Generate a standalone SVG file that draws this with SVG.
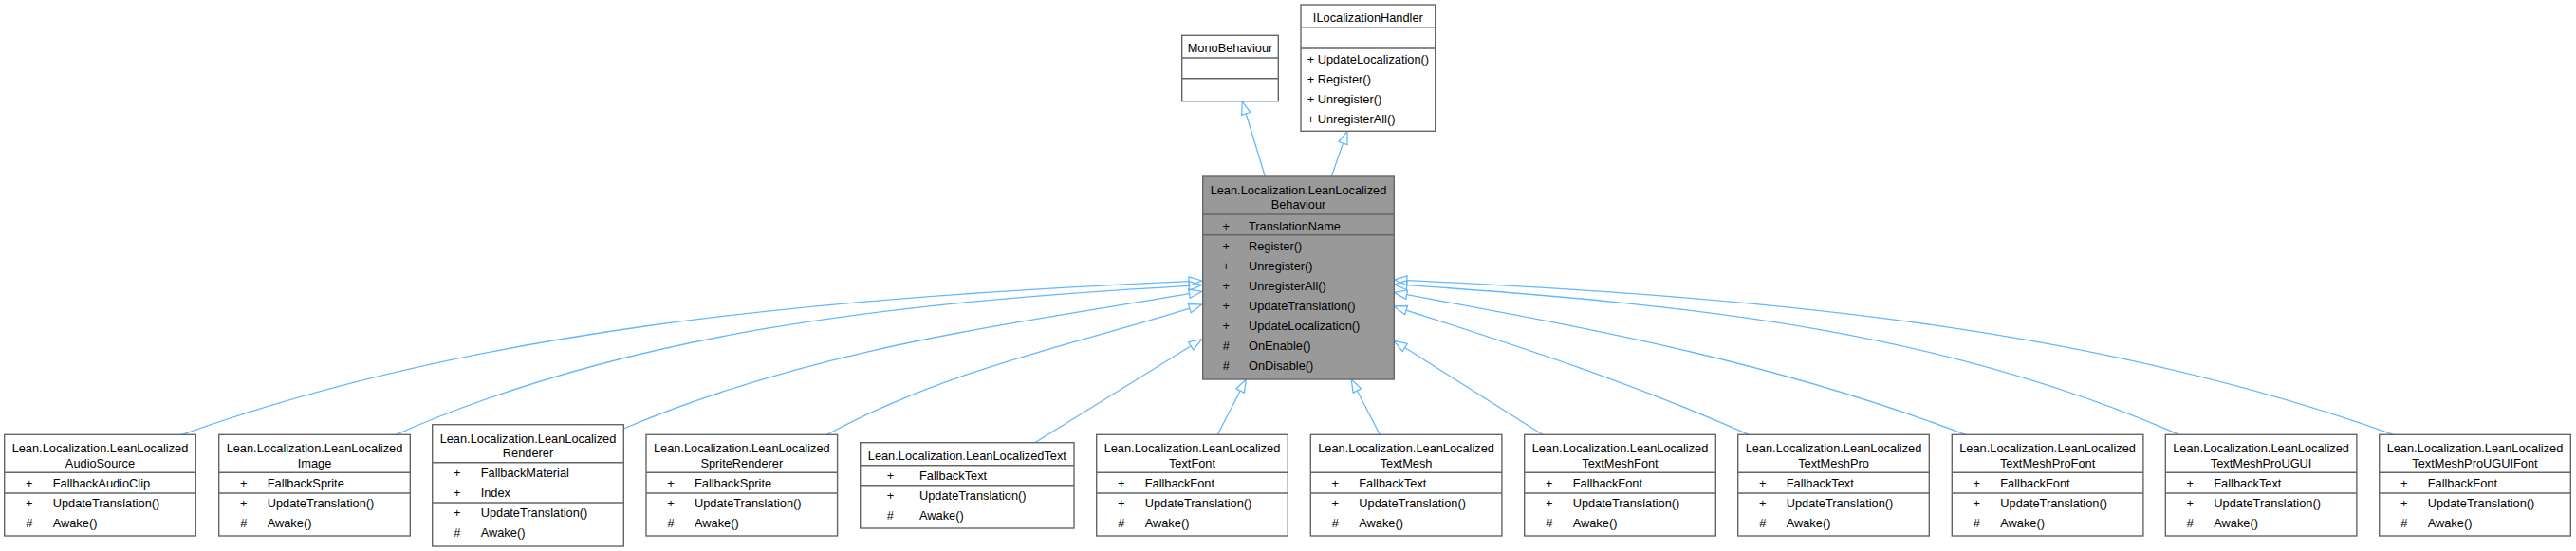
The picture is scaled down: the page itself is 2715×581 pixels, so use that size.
<svg xmlns="http://www.w3.org/2000/svg" width="2715" height="581" viewBox="0 0 2715 581">
<defs>
<style>
text{font-family:"Liberation Sans",Arial,sans-serif;font-size:12.8px;fill:#000}
.c{text-anchor:middle}
.box{fill:#fff;stroke:#666;stroke-width:1.4}
.main{fill:#999;stroke:#666;stroke-width:1.4}
.sep{stroke:#666;stroke-width:1.4}
.edge{fill:none;stroke:#63b8ff;stroke-width:1.3;marker-end:url(#arr)}
</style>
<marker id="arr" markerUnits="userSpaceOnUse" markerWidth="16" markerHeight="12" viewBox="-1 -6 16 12" refX="0" refY="0" orient="auto" overflow="visible">
<path d="M0,-4.8 L13.5,0 L0,4.8 Z" fill="none" stroke="#63b8ff" stroke-width="1.3"/>
</marker>
</defs>
<rect width="2715" height="581" fill="#fff"/>

<g id="connectors">
<path class="edge" d="M1333.3,186 L1313.2,119.9"/>
<path class="edge" d="M1403.3,186 L1415.5,151.1"/>
<path class="edge" d="M191.7,458.3 C500,348 850,315 1253.2,296.6"/>
<path class="edge" d="M417.3,458.3 C659.7,351.5 935.6,319.2 1253.3,301.3"/>
<path class="edge" d="M657.3,452 C856.7,367.7 1053.4,343.6 1253.4,309.6"/>
<path class="edge" d="M871.7,458.3 C1001.7,388.1 1133.8,362.9 1253.8,325.1"/>
<path class="edge" d="M1090.7,466.7 L1255.2,364.8"/>
<path class="edge" d="M1283.3,458.3 L1307.2,412"/>
<path class="edge" d="M1454.3,458.3 L1430.4,412"/>
<path class="edge" d="M1625.7,458.3 L1480.7,366.5"/>
<path class="edge" d="M1843.3,458.3 C1713.3,401.1 1602.1,365.9 1482.1,327.1"/>
<path class="edge" d="M2071.7,458.3 C1871.7,382.3 1682.6,347.5 1482.6,310.7"/>
<path class="edge" d="M2296.7,458.3 C2054.7,352.3 1800.7,321.7 1482.7,300.7"/>
<path class="edge" d="M2522.7,458.3 C2214.7,348.3 1885.8,314.7 1482.8,295.7"/>
</g>

<g id="MonoBehaviour" transform="translate(1245.7,37.3)">
<rect class="box" width="101.6" height="69.4"/>
<line class="sep" x1="0" y1="23.7" x2="101.6" y2="23.7"/>
<line class="sep" x1="0" y1="45.4" x2="101.6" y2="45.4"/>
<text class="c" x="50.8" y="17.7">MonoBehaviour</text>
</g>

<g id="ILocalizationHandler" transform="translate(1371,5)">
<rect class="box" width="141.7" height="133.3"/>
<line class="sep" x1="0" y1="24.3" x2="141.7" y2="24.3"/>
<line class="sep" x1="0" y1="46" x2="141.7" y2="46"/>
<text class="c" x="70.85" y="17.5">ILocalizationHandler</text>
<text x="6.7" y="61.5">+ UpdateLocalization()</text>
<text x="6.7" y="82.7">+ Register()</text>
<text x="6.7" y="103.9">+ Unregister()</text>
<text x="6.7" y="125.1">+ UnregisterAll()</text>
</g>

<g id="LeanLocalizedBehaviour" transform="translate(1267.7,186)">
<rect class="main" width="201.6" height="214"/>
<line class="sep" x1="0" y1="40" x2="201.6" y2="40"/>
<line class="sep" x1="0" y1="61.7" x2="201.6" y2="61.7"/>
<text class="c" x="100.8" y="19">Lean.Localization.LeanLocalized</text>
<text class="c" x="100.8" y="34.4">Behaviour</text>
<text class="c" x="24.6" y="56.7">+</text><text x="48.3" y="56.7">TranslationName</text>
<text class="c" x="24.6" y="77.5">+</text><text x="48.3" y="77.5">Register()</text>
<text class="c" x="24.6" y="98.65">+</text><text x="48.3" y="98.65">Unregister()</text>
<text class="c" x="24.6" y="119.8">+</text><text x="48.3" y="119.8">UnregisterAll()</text>
<text class="c" x="24.6" y="140.95">+</text><text x="48.3" y="140.95">UpdateTranslation()</text>
<text class="c" x="24.6" y="162.1">+</text><text x="48.3" y="162.1">UpdateLocalization()</text>
<text class="c" x="24.6" y="183.25">#</text><text x="48.3" y="183.25">OnEnable()</text>
<text class="c" x="24.6" y="204.4">#</text><text x="48.3" y="204.4">OnDisable()</text>
</g>

<g id="LeanLocalizedAudioSource" transform="translate(4.7,458.3)">
<rect class="box" width="201.6" height="106.7"/>
<line class="sep" x1="0" y1="40" x2="201.6" y2="40"/>
<line class="sep" x1="0" y1="61.7" x2="201.6" y2="61.7"/>
<text class="c" x="100.8" y="19">Lean.Localization.LeanLocalized</text>
<text class="c" x="100.8" y="34.4">AudioSource</text>
<text class="c" x="26" y="55.7">+</text><text x="51" y="55.7">FallbackAudioClip</text>
<text class="c" x="26" y="76.7">+</text><text x="51" y="76.7">UpdateTranslation()</text>
<text class="c" x="26" y="97.7">#</text><text x="51" y="97.7">Awake()</text>
</g>

<g id="LeanLocalizedImage" transform="translate(230.7,458.3)">
<rect class="box" width="201.6" height="106.7"/>
<line class="sep" x1="0" y1="40" x2="201.6" y2="40"/>
<line class="sep" x1="0" y1="61.7" x2="201.6" y2="61.7"/>
<text class="c" x="100.8" y="19">Lean.Localization.LeanLocalized</text>
<text class="c" x="100.8" y="34.4">Image</text>
<text class="c" x="26" y="55.7">+</text><text x="51" y="55.7">FallbackSprite</text>
<text class="c" x="26" y="76.7">+</text><text x="51" y="76.7">UpdateTranslation()</text>
<text class="c" x="26" y="97.7">#</text><text x="51" y="97.7">Awake()</text>
</g>

<g id="LeanLocalizedRenderer" transform="translate(455.7,447.7)">
<rect class="box" width="201.6" height="128.3"/>
<line class="sep" x1="0" y1="40" x2="201.6" y2="40"/>
<line class="sep" x1="0" y1="82.3" x2="201.6" y2="82.3"/>
<text class="c" x="100.8" y="19">Lean.Localization.LeanLocalized</text>
<text class="c" x="100.8" y="34.4">Renderer</text>
<text class="c" x="26" y="55.7">+</text><text x="51" y="55.7">FallbackMaterial</text>
<text class="c" x="26" y="76.7">+</text><text x="51" y="76.7">Index</text>
<text class="c" x="26" y="97.7">+</text><text x="51" y="97.7">UpdateTranslation()</text>
<text class="c" x="26" y="118.7">#</text><text x="51" y="118.7">Awake()</text>
</g>

<g id="LeanLocalizedSpriteRenderer" transform="translate(681,458.3)">
<rect class="box" width="201.6" height="106.7"/>
<line class="sep" x1="0" y1="40" x2="201.6" y2="40"/>
<line class="sep" x1="0" y1="61.7" x2="201.6" y2="61.7"/>
<text class="c" x="100.8" y="19">Lean.Localization.LeanLocalized</text>
<text class="c" x="100.8" y="34.4">SpriteRenderer</text>
<text class="c" x="26" y="55.7">+</text><text x="51" y="55.7">FallbackSprite</text>
<text class="c" x="26" y="76.7">+</text><text x="51" y="76.7">UpdateTranslation()</text>
<text class="c" x="26" y="97.7">#</text><text x="51" y="97.7">Awake()</text>
</g>

<g id="LeanLocalizedText" transform="translate(906.7,466.7)">
<rect class="box" width="225.3" height="90.3"/>
<line class="sep" x1="0" y1="24" x2="225.3" y2="24"/>
<line class="sep" x1="0" y1="45" x2="225.3" y2="45"/>
<text class="c" x="112.65" y="18">Lean.Localization.LeanLocalizedText</text>
<text class="c" x="31.7" y="39">+</text><text x="62.3" y="39">FallbackText</text>
<text class="c" x="31.7" y="60">+</text><text x="62.3" y="60">UpdateTranslation()</text>
<text class="c" x="31.7" y="81">#</text><text x="62.3" y="81">Awake()</text>
</g>

<g id="LeanLocalizedTextFont" transform="translate(1155.7,458.3)">
<rect class="box" width="201.6" height="106.7"/>
<line class="sep" x1="0" y1="40" x2="201.6" y2="40"/>
<line class="sep" x1="0" y1="61.7" x2="201.6" y2="61.7"/>
<text class="c" x="100.8" y="19">Lean.Localization.LeanLocalized</text>
<text class="c" x="100.8" y="34.4">TextFont</text>
<text class="c" x="26" y="55.7">+</text><text x="51" y="55.7">FallbackFont</text>
<text class="c" x="26" y="76.7">+</text><text x="51" y="76.7">UpdateTranslation()</text>
<text class="c" x="26" y="97.7">#</text><text x="51" y="97.7">Awake()</text>
</g>

<g id="LeanLocalizedTextMesh" transform="translate(1381.3,458.3)">
<rect class="box" width="201.6" height="106.7"/>
<line class="sep" x1="0" y1="40" x2="201.6" y2="40"/>
<line class="sep" x1="0" y1="61.7" x2="201.6" y2="61.7"/>
<text class="c" x="100.8" y="19">Lean.Localization.LeanLocalized</text>
<text class="c" x="100.8" y="34.4">TextMesh</text>
<text class="c" x="26" y="55.7">+</text><text x="51" y="55.7">FallbackText</text>
<text class="c" x="26" y="76.7">+</text><text x="51" y="76.7">UpdateTranslation()</text>
<text class="c" x="26" y="97.7">#</text><text x="51" y="97.7">Awake()</text>
</g>

<g id="LeanLocalizedTextMeshFont" transform="translate(1606.7,458.3)">
<rect class="box" width="201.6" height="106.7"/>
<line class="sep" x1="0" y1="40" x2="201.6" y2="40"/>
<line class="sep" x1="0" y1="61.7" x2="201.6" y2="61.7"/>
<text class="c" x="100.8" y="19">Lean.Localization.LeanLocalized</text>
<text class="c" x="100.8" y="34.4">TextMeshFont</text>
<text class="c" x="26" y="55.7">+</text><text x="51" y="55.7">FallbackFont</text>
<text class="c" x="26" y="76.7">+</text><text x="51" y="76.7">UpdateTranslation()</text>
<text class="c" x="26" y="97.7">#</text><text x="51" y="97.7">Awake()</text>
</g>

<g id="LeanLocalizedTextMeshPro" transform="translate(1831.7,458.3)">
<rect class="box" width="201.6" height="106.7"/>
<line class="sep" x1="0" y1="40" x2="201.6" y2="40"/>
<line class="sep" x1="0" y1="61.7" x2="201.6" y2="61.7"/>
<text class="c" x="100.8" y="19">Lean.Localization.LeanLocalized</text>
<text class="c" x="100.8" y="34.4">TextMeshPro</text>
<text class="c" x="26" y="55.7">+</text><text x="51" y="55.7">FallbackText</text>
<text class="c" x="26" y="76.7">+</text><text x="51" y="76.7">UpdateTranslation()</text>
<text class="c" x="26" y="97.7">#</text><text x="51" y="97.7">Awake()</text>
</g>

<g id="LeanLocalizedTextMeshProFont" transform="translate(2057.3,458.3)">
<rect class="box" width="201.6" height="106.7"/>
<line class="sep" x1="0" y1="40" x2="201.6" y2="40"/>
<line class="sep" x1="0" y1="61.7" x2="201.6" y2="61.7"/>
<text class="c" x="100.8" y="19">Lean.Localization.LeanLocalized</text>
<text class="c" x="100.8" y="34.4">TextMeshProFont</text>
<text class="c" x="26" y="55.7">+</text><text x="51" y="55.7">FallbackFont</text>
<text class="c" x="26" y="76.7">+</text><text x="51" y="76.7">UpdateTranslation()</text>
<text class="c" x="26" y="97.7">#</text><text x="51" y="97.7">Awake()</text>
</g>

<g id="LeanLocalizedTextMeshProUGUI" transform="translate(2282.3,458.3)">
<rect class="box" width="201.6" height="106.7"/>
<line class="sep" x1="0" y1="40" x2="201.6" y2="40"/>
<line class="sep" x1="0" y1="61.7" x2="201.6" y2="61.7"/>
<text class="c" x="100.8" y="19">Lean.Localization.LeanLocalized</text>
<text class="c" x="100.8" y="34.4">TextMeshProUGUI</text>
<text class="c" x="26" y="55.7">+</text><text x="51" y="55.7">FallbackText</text>
<text class="c" x="26" y="76.7">+</text><text x="51" y="76.7">UpdateTranslation()</text>
<text class="c" x="26" y="97.7">#</text><text x="51" y="97.7">Awake()</text>
</g>

<g id="LeanLocalizedTextMeshProUGUIFont" transform="translate(2507.7,458.3)">
<rect class="box" width="201.6" height="106.7"/>
<line class="sep" x1="0" y1="40" x2="201.6" y2="40"/>
<line class="sep" x1="0" y1="61.7" x2="201.6" y2="61.7"/>
<text class="c" x="100.8" y="19">Lean.Localization.LeanLocalized</text>
<text class="c" x="100.8" y="34.4">TextMeshProUGUIFont</text>
<text class="c" x="26" y="55.7">+</text><text x="51" y="55.7">FallbackFont</text>
<text class="c" x="26" y="76.7">+</text><text x="51" y="76.7">UpdateTranslation()</text>
<text class="c" x="26" y="97.7">#</text><text x="51" y="97.7">Awake()</text>
</g>
</svg>
